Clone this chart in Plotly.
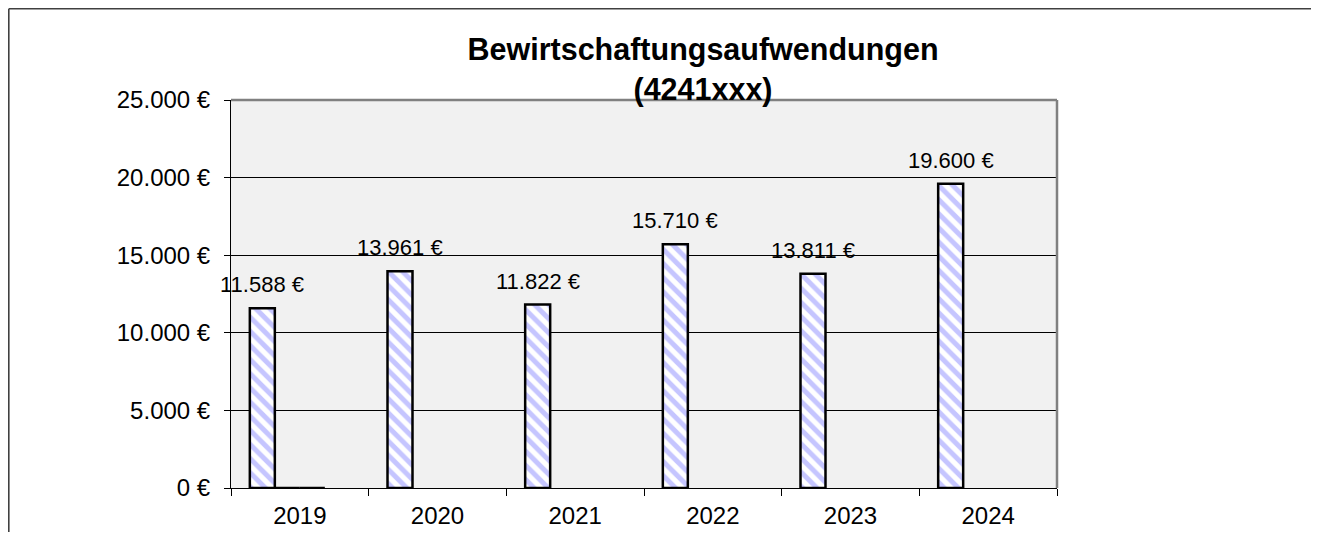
import plotly.graph_objects as go

# ---- data ----
years = ["2019", "2020", "2021", "2022", "2023", "2024"]
aufwand = [11588, 13961, 11822, 15710, 13811, 19600]
serie_b = [0, None, None, None, None, None]
serie_c = [0, None, None, None, None, None]
serie_d = [None, None, None, None, None, None]
y_tickvals = [0, 5000, 10000, 15000, 20000, 25000]
title_lines = ["Bewirtschaftungsaufwendungen", "(4241xxx)"]


def eur(v):
    return f"{v:,}".replace(",", ".") + " €"


y_ticktext = [eur(v) for v in y_tickvals]
labels = [eur(v) for v in aufwand]

FONT = "Arial, 'Liberation Sans', sans-serif"
# page body has an 8px margin; keep the figure small enough to avoid scrollbars
W, H = 1303, 524
L, R, T, B = 223, 254, 92, 44
pw, ph = W - L - R, H - T - B

fig = go.Figure()
bar_style = dict(
    marker=dict(
        color="white",
        pattern=dict(shape="\\", fgcolor="#8c8cff", bgcolor="white",
                     size=10, solidity=0.5, fillmode="overlay"),
        line=dict(color="black", width=2.5),
    ),
    showlegend=False,
    hoverinfo="skip",
)
for name, vals in [("A", aufwand), ("B", serie_b), ("C", serie_c), ("D", serie_d)]:
    fig.add_trace(go.Bar(x=years, y=vals, name=name, **bar_style))

for i, (v, t) in enumerate(zip(aufwand, labels)):
    fig.add_annotation(x=i, y=v, text=t, showarrow=False, xanchor="center",
                       yanchor="bottom", xshift=-37.5, yshift=9,
                       font=dict(family=FONT, size=22, color="black"))

# plot area border (gray top/right)
fig.add_shape(type="line", xref="paper", yref="paper", x0=0, x1=1, y0=1, y1=1,
              line=dict(color="#808080", width=2.5), layer="above")
fig.add_shape(type="line", xref="paper", yref="paper", x0=1, x1=1, y0=0, y1=1,
              line=dict(color="#808080", width=2.5), layer="above")
# outer chart frame: left and top edges only (continues past the window)
fx0 = (0.8 - L) / pw
fy1 = (H - B - 0.8) / ph
fig.add_shape(type="line", xref="paper", yref="paper", x0=fx0, x1=fx0,
              y0=-1, y1=fy1, line=dict(color="#404040", width=1.6), layer="above")
fig.add_shape(type="line", xref="paper", yref="paper", x0=fx0, x1=(W - L) / pw,
              y0=fy1, y1=fy1, line=dict(color="#404040", width=1.6), layer="above")

fig.update_layout(
    width=W, height=H,
    margin=dict(l=L, r=R, t=T, b=B, autoexpand=False),
    paper_bgcolor="white",
    plot_bgcolor="#f1f1f1",
    barmode="group",
    bargap=0.2736,
    bargroupgap=0,
    font=dict(family=FONT, color="black"),
    title=dict(
        text="<b>" + "<br>".join(title_lines) + "</b>",
        font=dict(family=FONT, size=30.5, color="black"),
        x=695 / W, xref="container", xanchor="center",
        y=1 - 52 / H, yref="container", yanchor="top",
    ),
    xaxis=dict(
        type="category", range=[-0.5, 5.5],
        showline=True, linecolor="black", linewidth=1,
        ticks="outside", tickson="boundaries", ticklen=7, tickcolor="black",
        tickfont=dict(family=FONT, size=24, color="black"),
        showgrid=False, ticklabelstandoff=6,
    ),
    yaxis=dict(
        range=[0, 25000],
        tickvals=y_tickvals, ticktext=y_ticktext,
        tickfont=dict(family=FONT, size=24, color="black"),
        showgrid=True, gridcolor="black", gridwidth=1,
        showline=True, linecolor="black", linewidth=1,
        ticks="outside", ticklen=6, tickcolor="black",
        zeroline=False, ticklabelstandoff=9,
    ),
)

fig.write_html("out.html")
